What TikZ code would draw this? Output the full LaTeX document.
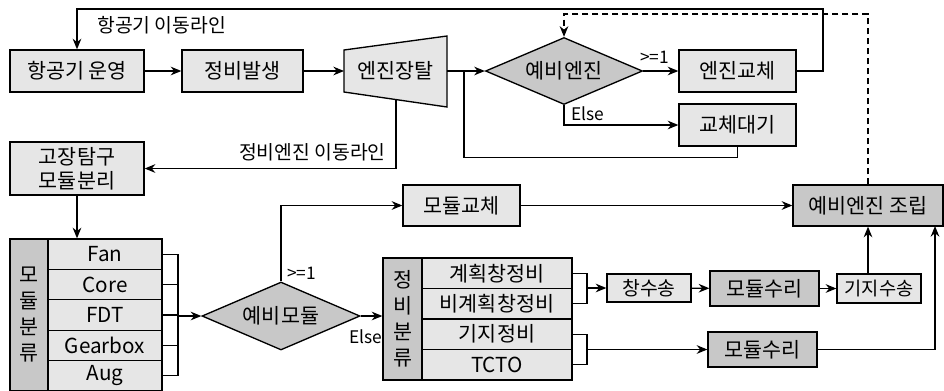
\documentclass[tikz,border=0pt]{standalone}
\usepackage{fontspec}
\setmainfont{Noto Sans CJK KR}
\usetikzlibrary{arrows.meta,shapes.geometric,calc}
\definecolor{lg}{HTML}{E6E6E6}
\definecolor{dg}{HTML}{C8C8C8}
\begin{document}
\begin{tikzpicture}[x=0.75pt,y=-0.75pt,
  bx/.style 2 args={draw, line width=1pt, fill=lg, inner sep=0pt, minimum width=#1*0.75pt, minimum height=#2*0.75pt, font=\fontsize{15.5}{19}\selectfont, align=center},
  dbx/.style 2 args={bx={#1}{#2}, fill=dg},
  dia/.style={draw, line width=1pt, fill=dg, diamond, inner sep=0pt, font=\fontsize{15.5}{19}\selectfont},
  conn/.style={line width=0.9pt},
  arr/.style={conn, -{Stealth[length=8pt,width=6.5pt]}},
  lbl/.style={font=\fontsize{13}{15}\selectfont, inner sep=0pt},
  klbl/.style={font=\fontsize{14.5}{17}\selectfont, inner sep=0pt},
  vtxt/.style={font=\fontsize{15.5}{19.5}\selectfont, align=center},
]
\useasboundingbox (0,0) rectangle (944,390);

% top row
\node[bx={134}{42}] (ops) at (77,71) {항공기 운영};
\node[bx={121}{42}] (occ) at (242.5,71) {정비발생};
\draw[line width=1pt, fill=lg] (344,50) -- (447,36) -- (447,107) -- (344,92) -- cycle;
\node[font=\fontsize{15.5}{19}\selectfont, inner sep=0pt] (rem) at (395.5,71) {엔진장탈};
\coordinate (remW) at (344,71);
\coordinate (remE) at (447,71);
\coordinate (remS) at (396,99.6);
\node[dia, aspect=2.343, minimum width=117.75pt, minimum height=50.25pt] (deng) at (564,71) {예비엔진};
\node[bx={117}{42}] (rep) at (737.5,71) {엔진교체};
\node[bx={117}{42}] (wait) at (737.5,125) {교체대기};

% left column
\node[bx={134}{53}] (fault) at (77,168.5) {고장탐구\\[-1pt]모듈분리};

% module classification table
\node[dbx={38}{152}, vtxt] (mcls) at (29,315) {모\\듈\\분\\류};
\node[bx={114}{30.4}] (fan)  at (105,254.2) {Fan};
\node[bx={114}{30.4}] (core) at (105,284.6) {Core};
\node[bx={114}{30.4}] (fdt)  at (105,315.0) {FDT};
\node[bx={114}{30.4}] (gear) at (105,345.4) {Gearbox};
\node[bx={114}{30.4}] (aug)  at (105,375.8) {Aug};

\node[dia, aspect=2.324, minimum width=118.5pt, minimum height=51pt] (dmod) at (281,316) {예비모듈};

% maintenance classification table
\node[dbx={39}{122}, vtxt] (scls) at (402.5,319) {정\\비\\분\\류};
\node[bx={150}{30.5}] (r1) at (497,273.25) {계획창정비};
\node[bx={150}{30.5}] (r2) at (497,303.75) {비계획창정비};
\node[bx={150}{30.5}] (r3) at (497,334.25) {기지정비};
\node[bx={150}{30.5}] (r4) at (497,364.75) {TCTO};

\node[bx={117}{41}] (mrep) at (461.5,205.5) {모듈교체};
\node[dbx={150}{41}] (asm) at (868,205.5) {예비엔진 조립};
\node[bx={84}{28}, font=\fontsize{14.5}{17}\selectfont] (ship) at (649,288) {창수송};
\node[dbx={109}{35}] (fix1) at (764.5,288.5) {모듈수리};
\node[bx={84}{29}, font=\fontsize{14}{17}\selectfont] (back) at (879,288.5) {기지수송};
\node[dbx={109}{35}] (fix2) at (762.5,349.5) {모듈수리};

% connectors top
\draw[arr] (ops) -- (occ);
\draw[arr] (occ) -- (remW);
\draw[arr] (remE) -- (deng.west);
\draw[arr] (deng.east) -- (rep.west);
\node[lbl, anchor=west] (l1) at (640,57) {>=1};
\draw[arr] (deng.south) |- (wait.west);
\node[lbl, anchor=west] (l2) at (571,114) {Else};
\coordinate (j1) at (464,71);
\draw[conn] (wait.south) -- ++(0,11) -| (j1);
\coordinate (tr) at (823,9);
\draw[arr] (rep.east) -| (tr) -| (ops.north);
\node[klbl, anchor=west] (l3) at (97,25) {항공기 이동라인};
\coordinate (dtop) at (564,14);
\draw[conn, dash pattern=on 4.5pt off 3pt, -{Stealth[length=8pt,width=6.5pt]}] (asm.north) |- (dtop) -- (deng.north);
\draw[arr] (remS) |- (fault.east);
\node[klbl, anchor=east] (l4) at (386,152) {정비엔진 이동라인};

% left lower connectors
\draw[arr] (fault.south) -- (mcls.north -| fault.south);
\coordinate (b1) at (178,254.2);
\coordinate (b2) at (178,375.8);
\draw[conn] (fan.east) -- (b1) -- (b2) -- (aug.east);
\draw[conn] (core.east) -- (core.east -| b1);
\draw[conn] (gear.east) -- (gear.east -| b1);
\draw[conn] (fdt.east) -- (fdt.east -| b1);
\draw[arr] (dmod.west -| b1) -- (dmod.west);
\draw[arr] (dmod.north) |- (mrep.west);
\node[lbl, anchor=west] (l5) at (287,273) {>=1};
\draw[arr] (dmod.east) -- (dmod.east -| scls.west);
\node[lbl, anchor=west] (l6) at (349,337) {Else};

% right lower connectors
\draw[arr] (mrep.east) -- (asm.west);
\coordinate (c1) at (587,273.25);
\coordinate (c2) at (587,303.75);
\draw[conn] (r1.east) -- (c1) -- (c2) -- (r2.east);
\draw[arr] (587,288) -- (ship.west);
\draw[arr] (ship) -- (fix1);
\draw[arr] (fix1) -- (back);
\draw[arr] (back.north -| asm.south) -- (asm.south);
\coordinate (c3) at (587,334.25);
\coordinate (c4) at (587,364.75);
\draw[conn] (r3.east) -- (c3) -- (c4) -- (r4.east);
\draw[arr] (587,349.5) -- (fix2.west);
\coordinate (c5) at (935,226);
\draw[arr] (fix2.east) -| (c5);
\end{tikzpicture}
\end{document}
